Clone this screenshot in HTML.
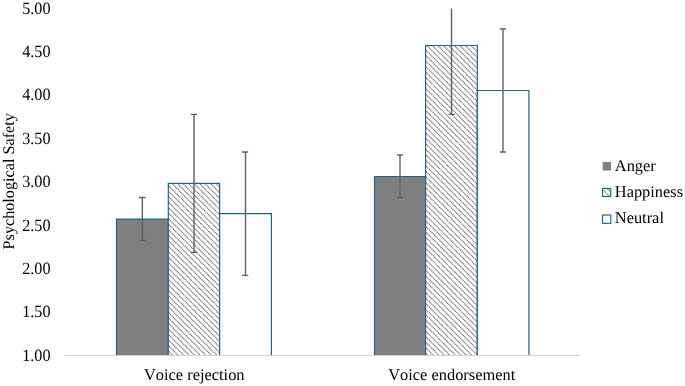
<!DOCTYPE html>
<html><head><meta charset="utf-8">
<style>
html,body{margin:0;padding:0;background:#fff;}
body{width:685px;height:386px;overflow:hidden;}
svg{display:block;will-change:transform;opacity:0.999;}
text{font-family:"Liberation Serif",serif;font-size:16.2px;fill:#000;text-rendering:geometricPrecision;font-kerning:none;}
.a{font-size:16.4px;}
.bar{stroke:#1f6486;stroke-width:1.2;fill:none;}
.hl{stroke:#6a6a6a;stroke-width:1.1;fill:none;stroke-dasharray:1.3 0.55;}
.eb{stroke:#606060;stroke-width:1.4;fill:none;}
.cap{stroke:#606060;stroke-width:1.35;fill:none;}
</style></head><body>
<svg width="685" height="386" viewBox="0 0 685 386">
<defs>
<clipPath id="c1"><rect x="168.3" y="183.45" width="51.3" height="172.1"/></clipPath>
<clipPath id="c4"><rect x="425.6" y="45.5" width="51.7" height="310.0"/></clipPath>
<clipPath id="cl"><rect x="602.5" y="188.45" width="8.25" height="8.0"/></clipPath>
</defs>
<rect width="685" height="386" fill="#fff"/>
<g text-anchor="end" class="a">
<text transform="translate(50.5,13.6) scale(1,1.06)">5.00</text>
<text transform="translate(50.5,57.0) scale(1,1.06)">4.50</text>
<text transform="translate(50.5,100.4) scale(1,1.06)">4.00</text>
<text transform="translate(50.5,143.8) scale(1,1.06)">3.50</text>
<text transform="translate(50.5,187.2) scale(1,1.06)">3.00</text>
<text transform="translate(50.5,230.6) scale(1,1.06)">2.50</text>
<text transform="translate(50.5,274.0) scale(1,1.06)">2.00</text>
<text transform="translate(50.5,317.4) scale(1,1.06)">1.50</text>
<text transform="translate(50.5,360.8) scale(1,1.06)">1.00</text>
</g>
<text transform="translate(13.5,181.3) rotate(-90)" text-anchor="middle">Psychological Safety</text>
<rect x="116.5" y="219.1" width="51.8" height="136.4" fill="#7f7f7f"/>
<path class="bar" d="M116.5,355.5V219.1H168.3V355.5"/>
<rect x="168.3" y="183.45" width="51.3" height="172.1" fill="#fff"/>
<path clip-path="url(#c1)" class="hl" d="M166.30,354.38L169.42,357.50M166.30,348.87L174.93,357.50M166.30,343.36L180.44,357.50M166.30,337.84L185.96,357.50M166.30,332.33L191.47,357.50M166.30,326.82L196.98,357.50M166.30,321.30L202.50,357.50M166.30,315.79L208.01,357.50M166.30,310.28L213.52,357.50M166.30,304.76L219.04,357.50M166.30,299.25L221.60,354.55M166.30,293.74L221.60,349.04M166.30,288.23L221.60,343.53M166.30,282.71L221.60,338.01M166.30,277.20L221.60,332.50M166.30,271.69L221.60,326.99M166.30,266.17L221.60,321.47M166.30,260.66L221.60,315.96M166.30,255.15L221.60,310.45M166.30,249.63L221.60,304.94M166.30,244.12L221.60,299.42M166.30,238.61L221.60,293.91M166.30,233.10L221.60,288.40M166.30,227.58L221.60,282.88M166.30,222.07L221.60,277.37M166.30,216.56L221.60,271.86M166.30,211.04L221.60,266.34M166.30,205.53L221.60,260.83M166.30,200.02L221.60,255.32M166.30,194.50L221.60,249.81M166.30,188.99L221.60,244.29M166.30,183.48L221.60,238.78M169.78,181.45L221.60,233.27M175.30,181.45L221.60,227.75M180.81,181.45L221.60,222.24M186.32,181.45L221.60,216.73M191.84,181.45L221.60,211.21M197.35,181.45L221.60,205.70M202.86,181.45L221.60,200.19M208.38,181.45L221.60,194.68M213.89,181.45L221.60,189.16M219.40,181.45L221.60,183.65"/>
<path class="bar" d="M168.3,355.5V183.45H219.6V355.5"/>
<rect x="219.6" y="213.55" width="51.8" height="141.9" fill="#fff"/>
<path class="bar" d="M219.6,355.5V213.55H271.4V355.5"/>
<rect x="374.5" y="176.5" width="51.1" height="179.0" fill="#7f7f7f"/>
<path class="bar" d="M374.5,355.5V176.5H425.6V355.5"/>
<rect x="425.6" y="45.5" width="51.7" height="310.0" fill="#fff"/>
<path clip-path="url(#c4)" class="hl" d="M423.60,356.54L424.56,357.50M423.60,351.03L430.07,357.50M423.60,345.52L435.58,357.50M423.60,340.00L441.10,357.50M423.60,334.49L446.61,357.50M423.60,328.98L452.12,357.50M423.60,323.47L457.63,357.50M423.60,317.95L463.15,357.50M423.60,312.44L468.66,357.50M423.60,306.93L474.17,357.50M423.60,301.41L479.30,357.11M423.60,295.90L479.30,351.60M423.60,290.39L479.30,346.09M423.60,284.88L479.30,340.58M423.60,279.36L479.30,335.06M423.60,273.85L479.30,329.55M423.60,268.34L479.30,324.04M423.60,262.82L479.30,318.52M423.60,257.31L479.30,313.01M423.60,251.80L479.30,307.50M423.60,246.28L479.30,301.98M423.60,240.77L479.30,296.47M423.60,235.26L479.30,290.96M423.60,229.75L479.30,285.45M423.60,224.23L479.30,279.93M423.60,218.72L479.30,274.42M423.60,213.21L479.30,268.91M423.60,207.69L479.30,263.39M423.60,202.18L479.30,257.88M423.60,196.67L479.30,252.37M423.60,191.15L479.30,246.85M423.60,185.64L479.30,241.34M423.60,180.13L479.30,235.83M423.60,174.62L479.30,230.31M423.60,169.10L479.30,224.80M423.60,163.59L479.30,219.29M423.60,158.08L479.30,213.78M423.60,152.56L479.30,208.26M423.60,147.05L479.30,202.75M423.60,141.54L479.30,197.24M423.60,136.02L479.30,191.72M423.60,130.51L479.30,186.21M423.60,125.00L479.30,180.70M423.60,119.49L479.30,175.19M423.60,113.97L479.30,169.67M423.60,108.46L479.30,164.16M423.60,102.95L479.30,158.65M423.60,97.43L479.30,153.13M423.60,91.92L479.30,147.62M423.60,86.41L479.30,142.11M423.60,80.89L479.30,136.59M423.60,75.38L479.30,131.08M423.60,69.87L479.30,125.57M423.60,64.36L479.30,120.06M423.60,58.84L479.30,114.54M423.60,53.33L479.30,109.03M423.60,47.82L479.30,103.52M424.80,43.50L479.30,98.00M430.31,43.50L479.30,92.49M435.82,43.50L479.30,86.98M441.34,43.50L479.30,81.46M446.85,43.50L479.30,75.95M452.36,43.50L479.30,70.44M457.87,43.50L479.30,64.93M463.39,43.50L479.30,59.41M468.90,43.50L479.30,53.90M474.41,43.50L479.30,48.39"/>
<path class="bar" d="M425.6,355.5V45.5H477.3V355.5"/>
<rect x="477.3" y="90.5" width="51.7" height="265.0" fill="#fff"/>
<path class="bar" d="M477.3,355.5V90.5H528.95V355.5"/>
<line x1="64.9" y1="355.45" x2="580" y2="355.45" stroke="#d2d2d2" stroke-width="1.15"/>
<path class="eb" d="M142.35,197.5V240.3"/><path class="cap" d="M138.9,197.5H145.7M138.9,240.3H145.7"/>
<path class="eb" d="M194.0,114.4V252.35"/><path class="cap" d="M190.6,114.4H197.0M190.6,252.35H197.0"/>
<path class="eb" d="M245.5,152.0V275.4"/><path class="cap" d="M242.0,152.0H248.2M242.0,275.4H248.2"/>
<path class="eb" d="M400.0,155.0V197.6"/><path class="cap" d="M396.9,155.0H403.1M396.9,197.6H403.1"/>
<path class="eb" d="M451.5,8.6V114.4"/><path class="cap" d="M448.7,114.4H454.8"/>
<path class="eb" d="M503.0,29.0V152.0"/><path class="cap" d="M499.9,29.0H506.1M499.9,152.0H506.1"/>
<text class="a" x="194.3" y="379.8" text-anchor="middle">Voice rejection</text>
<text class="a" x="451.75" y="379.8" text-anchor="middle">Voice endorsement</text>
<rect x="602.7" y="161.9" width="8.35" height="8.6" fill="#7f7f7f"/>
<text class="a" x="614.8" y="170.8">Anger</text>
<rect x="602.5" y="188.45" width="8.25" height="8.0" fill="#fff"/>
<path clip-path="url(#cl)" class="hl" d="M601,187.8L612,198.8M605,186.3L613,194.3"/>
<rect x="602.5" y="188.45" width="8.25" height="8.0" fill="none" stroke="#1f6486" stroke-width="1.15"/>
<text class="a" x="614.8" y="197">Happiness</text>
<rect x="602.5" y="215.05" width="8.25" height="8.3" fill="#fff" stroke="#1f6486" stroke-width="1.15"/>
<text class="a" x="614.8" y="223.2">Neutral</text>
</svg>
</body></html>
